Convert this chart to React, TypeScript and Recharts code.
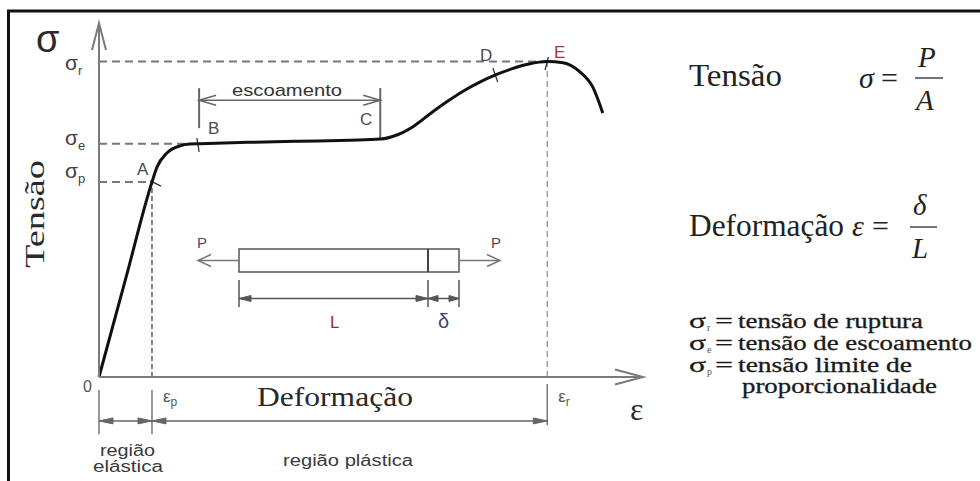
import React from 'react';
import { ComposedChart, Line, XAxis, YAxis, ReferenceLine } from 'recharts';

// curva tensão x deformação (unidades arbitrárias)
const strain = [0, 4.87, 9.74, 10.66, 12.5, 14.9, 16.7, 18.6, 27.8, 36.9, 46.1, 51.7, 55.0, 58.0, 61.0, 64.0, 67.0, 70.0, 73.0, 76.0, 79.0, 82.4, 85.3, 88.4, 90.8, 92.6];
const stress = [0, 27.55, 55.1, 59.3, 63.3, 65.3, 65.8, 65.9, 66.3, 66.6, 66.9, 67.2, 68.5, 71.0, 74.5, 77.8, 80.8, 83.3, 85.4, 87.1, 88.4, 89.1, 88.8, 86.2, 81.8, 74.6];

const sigmaP = 55.1;
const sigmaE = 65.9;
const sigmaR = 89.1;
const epsP = 9.74;
const epsKnee = 16.7;
const epsB = 18.4;
const epsC = 51.7;
const sigmaC = 67.2;
const epsR = 82.4;

const yTicks = [sigmaP, sigmaE, sigmaR];
const ySubs = ['p', 'e', 'r'];
const xTicks = [0, epsP, epsR];
const xLabels = ['0', 'p', 'r'];

// cotas de anotação (mesma escala)
const yieldLevel = 78.2;
const yieldTop = 81.6;
const yieldBottomB = 70.3;
const dimLevel = -12.4;
const dimTop = -3.7;
const dimBottom = -16.2;
const curveMarks = [
  [[9.4, 55.4], [11.4, 53.9]],
  [[18.0, 67.5], [18.4, 63.6]],
  [[72.4, 87.3], [73.3, 83.3]],
  [[82.6, 90.4], [82.0, 86.7]],
];

const SANS = 'Liberation Sans';
const SERIF = 'Liberation Serif';

const data = strain.map((e, i) => ({ e, s: stress[i] }));

type ArrowOpts = { start?: boolean; end?: boolean; len?: number; half?: number; filled?: boolean; color?: string; w?: number; dash?: string };

const head = (tx: number, ty: number, ang: number, len: number, half: number, filled: boolean, color: string, w: number) => {
  const bx = tx - len * Math.cos(ang);
  const by = ty - len * Math.sin(ang);
  const px = -Math.sin(ang) * half;
  const py = Math.cos(ang) * half;
  const pts = `${bx + px},${by + py} ${tx},${ty} ${bx - px},${by - py}`;
  return filled
    ? <polygon points={pts} fill={color} stroke={color} strokeWidth={1} />
    : <polyline points={pts} fill="none" stroke={color} strokeWidth={w} />;
};

const arrowSvg = (x1: number, y1: number, x2: number, y2: number, o: ArrowOpts) => {
  const color = o.color ?? '#666';
  const w = o.w ?? 1.5;
  const len = o.len ?? 12;
  const half = o.half ?? 4;
  const a = Math.atan2(y2 - y1, x2 - x1);
  return (
    <g>
      <line x1={x1} y1={y1} x2={x2} y2={y2} stroke={color} strokeWidth={w} strokeDasharray={o.dash} />
      {o.start && head(x1, y1, a + Math.PI, len, half, !!o.filled, color, w)}
      {o.end && head(x2, y2, a, len, half, !!o.filled, color, w)}
    </g>
  );
};

const arrowShape = (o: ArrowOpts) => (p: any) => arrowSvg(p.x1, p.y1, p.x2, p.y2, o);

const YTick = (props: any) => {
  const { y, payload } = props;
  const i = yTicks.indexOf(payload.value);
  const dy = [-4, 1, 8][i] ?? 0;
  return (
    <text x={65} y={y + dy} fontFamily={SANS} fontSize={21} fill="#4a3c3c">
      σ<tspan fontSize={13} dy={5}>{ySubs[i]}</tspan>
    </text>
  );
};

const XTick = (props: any) => {
  const { x, payload } = props;
  const i = xTicks.indexOf(payload.value);
  if (i === 0) {
    return <text x={x - 16} y={392} fontFamily={SANS} fontSize={16} fill="#555">0</text>;
  }
  return (
    <text x={x + 11} y={402} fontFamily={SANS} fontSize={17} fill="#555">
      ε<tspan fontSize={12} dy={4}>{xLabels[i]}</tspan>
    </text>
  );
};

const dashed = { stroke: '#777', strokeWidth: 2, strokeDasharray: '8 5' };

const Overlay = () => (
  <svg width={980} height={481} style={{ position: 'absolute', left: 0, top: 0, pointerEvents: 'none' }}>
    {/* moldura */}
    <polyline points="8.5,481 8.5,11 980,11" fill="none" stroke="#111" strokeWidth={3} />

    <text x={36} y={52} fontFamily={SANS} fontSize={38} fill="#2a2a2a">σ</text>
    <text transform="translate(44,214) rotate(-90)" textAnchor="middle" fontFamily={SERIF} fontSize={27} fill="#2a2a2a" textLength={108} lengthAdjust="spacingAndGlyphs">Tensão</text>

    <text x={137} y={175} fontFamily={SANS} fontSize={17} fill="#4a4a5a">A</text>
    <text x={208} y={134} fontFamily={SANS} fontSize={17} fill="#4a4a5a">B</text>
    <text x={360} y={125} fontFamily={SANS} fontSize={17} fill="#4a4a5a">C</text>
    <text x={480} y={61} fontFamily={SANS} fontSize={17} fill="#4a4a5a">D</text>
    <text x={554} y={58} fontFamily={SANS} fontSize={17} fill="#a83a3a">E</text>

    <text x={232} y={96} fontFamily={SANS} fontSize={17} fill="#333" textLength={110} lengthAdjust="spacingAndGlyphs">escoamento</text>

    {/* corpo de prova */}
    <rect x={239} y={249} width={220} height={23} fill="none" stroke="#555" strokeWidth={1.5} />
    <line x1={428} y1={249} x2={428} y2={272} stroke="#444" strokeWidth={2} />
    {arrowSvg(239, 260.5, 198, 260.5, { end: true, len: 13, half: 6, color: '#777', w: 1.5 })}
    {arrowSvg(459, 260.5, 500, 260.5, { end: true, len: 13, half: 6, color: '#777', w: 1.5 })}
    <text x={197} y={248} fontFamily={SANS} fontSize={15} fill="#4a4a6a">P</text>
    <text x={491} y={248} fontFamily={SANS} fontSize={15} fill="#6a3a4a">P</text>
    {[239, 428, 459].map((x) => (
      <line key={x} x1={x} y1={280} x2={x} y2={307} stroke="#555" strokeWidth={1.5} />
    ))}
    {arrowSvg(239, 298.5, 428, 298.5, { start: true, end: true, len: 12, half: 3, filled: true, color: '#555', w: 1.5 })}
    {arrowSvg(428, 298.5, 459, 298.5, { start: true, end: true, len: 10, half: 3, filled: true, color: '#555', w: 1.5 })}
    <text x={330} y={328} fontFamily={SANS} fontSize={17} fill="#a02a2a">L</text>
    <text x={438} y={328} fontFamily={SANS} fontSize={20} fill="#3d4470">δ</text>

    <text x={257} y={406} fontFamily={SERIF} fontSize={27} fill="#2a2a2a" textLength={156} lengthAdjust="spacingAndGlyphs">Deformação</text>
    <text x={630} y={420} fontFamily={SERIF} fontSize={32} fill="#2a2a2a">ε</text>

    <text x={100} y={456} fontFamily={SANS} fontSize={16} fill="#3a3a3a" textLength={55} lengthAdjust="spacingAndGlyphs">região</text>
    <text x={93} y={472} fontFamily={SANS} fontSize={16} fill="#3a3a3a" textLength={70} lengthAdjust="spacingAndGlyphs">elástica</text>
    <text x={283} y={466} fontFamily={SANS} fontSize={16} fill="#3a3a3a" textLength={130} lengthAdjust="spacingAndGlyphs">região plástica</text>

    {/* fórmulas */}
    <text x={689} y={86} fontFamily={SERIF} fontSize={31} fill="#222" textLength={93} lengthAdjust="spacingAndGlyphs">Tensão</text>
    <text x={859} y={88} fontFamily={SERIF} fontStyle="italic" fontSize={30} fill="#222">σ</text>
    <text x={881} y={88} fontFamily={SERIF} fontSize={30} fill="#222">=</text>
    <text x={918} y={67} fontFamily={SERIF} fontStyle="italic" fontSize={29} fill="#222">P</text>
    <line x1={915} y1={78} x2={943} y2={78} stroke="#444" strokeWidth={1.5} />
    <text x={916} y={110} fontFamily={SERIF} fontStyle="italic" fontSize={29} fill="#222">A</text>

    <text x={689} y={236} fontFamily={SERIF} fontSize={31} fill="#222" textLength={155} lengthAdjust="spacingAndGlyphs">Deformação</text>
    <text x={852} y={236} fontFamily={SERIF} fontStyle="italic" fontSize={30} fill="#222">ε</text>
    <text x={872} y={236} fontFamily={SERIF} fontSize={30} fill="#222">=</text>
    <text x={913} y={215} fontFamily={SERIF} fontStyle="italic" fontSize={29} fill="#222">δ</text>
    <line x1={910} y1={227} x2={937} y2={227} stroke="#444" strokeWidth={1.5} />
    <text x={912} y={258} fontFamily={SERIF} fontStyle="italic" fontSize={29} fill="#222">L</text>

    {[
      { sub: 'r', text: 'tensão de ruptura', y: 328, w: 185 },
      { sub: 'e', text: 'tensão de escoamento', y: 350, w: 234 },
      { sub: 'p', text: 'tensão limite de', y: 372, w: 174 },
    ].map((r) => (
      <g key={r.sub}>
        <text x={689} y={r.y} fontFamily={SERIF} fontSize={21} fill="#1a1a1a" stroke="#1a1a1a" strokeWidth={0.3} textLength={17} lengthAdjust="spacingAndGlyphs">σ</text>
        <text x={707} y={r.y + 3} fontFamily={SERIF} fontSize={10} fill="#555">{r.sub}</text>
        <text x={715} y={r.y} fontFamily={SERIF} fontSize={21} fill="#1a1a1a" stroke="#1a1a1a" strokeWidth={0.3} textLength={18} lengthAdjust="spacingAndGlyphs">=</text>
        <text x={738} y={r.y} fontFamily={SERIF} fontSize={20} fill="#1a1a1a" stroke="#1a1a1a" strokeWidth={0.3} textLength={r.w} lengthAdjust="spacingAndGlyphs">{r.text}</text>
      </g>
    ))}
    <text x={742} y={393} fontFamily={SERIF} fontSize={20} fill="#1a1a1a" stroke="#1a1a1a" strokeWidth={0.3} textLength={195} lengthAdjust="spacingAndGlyphs">proporcionalidade</text>
  </svg>
);

export default function App() {
  return (
    <div style={{ position: 'absolute', left: 0, top: 0, width: 980, height: 481, background: '#fff' }}>
      <ComposedChart width={980} height={481} data={data} margin={{ top: 23, right: 337, bottom: 74, left: 59 }}>
        <XAxis dataKey="e" type="number" domain={[0, 100]} ticks={xTicks} interval={0} height={30}
          tickLine={false} axisLine={{ stroke: '#7a7a7a', strokeWidth: 2 }} tick={<XTick />} />
        <YAxis type="number" domain={[0, 100]} ticks={yTicks} interval={0} width={40}
          tickLine={false} axisLine={{ stroke: '#7a7a7a', strokeWidth: 2 }} tick={<YTick />} />

        {/* pontas dos eixos */}
        <ReferenceLine ifOverflow="visible" segment={[{ x: 90, y: 0 }, { x: 100, y: 0 }]}
          shape={arrowShape({ end: true, len: 28, half: 7.5, color: '#7a7a7a', w: 2 })} />
        <ReferenceLine ifOverflow="visible" segment={[{ x: 0, y: 90 }, { x: 0, y: 100 }]}
          shape={arrowShape({ end: true, len: 27, half: 7, color: '#7a7a7a', w: 2 })} />

        {/* linhas tracejadas de referência */}
        <ReferenceLine ifOverflow="visible" segment={[{ x: 0, y: sigmaR }, { x: epsR, y: sigmaR }]} {...dashed} />
        <ReferenceLine ifOverflow="visible" segment={[{ x: 0, y: sigmaE }, { x: epsKnee, y: sigmaE }]} {...dashed} />
        <ReferenceLine ifOverflow="visible" segment={[{ x: 0, y: sigmaP }, { x: epsP, y: sigmaP }]} {...dashed} />
        <ReferenceLine ifOverflow="visible" segment={[{ x: epsP, y: 0 }, { x: epsP, y: sigmaP }]} stroke="#666" strokeWidth={1.6} strokeDasharray="5 3" />
        <ReferenceLine ifOverflow="visible" segment={[{ x: epsR, y: 0 }, { x: epsR, y: sigmaR }]} stroke="#888" strokeWidth={1.2} strokeDasharray="6 4" />

        {/* cota escoamento */}
        <ReferenceLine ifOverflow="visible" segment={[{ x: epsB, y: yieldBottomB }, { x: epsB, y: yieldTop }]} stroke="#666" strokeWidth={2} />
        <ReferenceLine ifOverflow="visible" segment={[{ x: epsC, y: sigmaC }, { x: epsC, y: yieldTop }]} stroke="#666" strokeWidth={2} />
        <ReferenceLine ifOverflow="visible" segment={[{ x: epsB, y: yieldLevel }, { x: epsC, y: yieldLevel }]}
          shape={arrowShape({ start: true, end: true, len: 17, half: 5, color: '#666', w: 1.5 })} />

        {/* regiões elástica / plástica */}
        <ReferenceLine ifOverflow="visible" segment={[{ x: 0, y: dimTop }, { x: 0, y: dimBottom }]} stroke="#777" strokeWidth={1.5} />
        <ReferenceLine ifOverflow="visible" segment={[{ x: epsP, y: dimTop }, { x: epsP, y: dimBottom }]} stroke="#777" strokeWidth={1.5} />
        <ReferenceLine ifOverflow="visible" segment={[{ x: epsR, y: -2 }, { x: epsR, y: -13.6 }]} stroke="#777" strokeWidth={1.5} />
        <ReferenceLine ifOverflow="visible" segment={[{ x: 0, y: dimLevel }, { x: epsP, y: dimLevel }]}
          shape={arrowShape({ start: true, end: true, len: 14, half: 3, filled: true, color: '#666', w: 1.5 })} />
        <ReferenceLine ifOverflow="visible" segment={[{ x: epsP, y: dimLevel }, { x: epsR, y: dimLevel }]}
          shape={arrowShape({ start: true, end: true, len: 14, half: 3, filled: true, color: '#666', w: 1.5 })} />

        {curveMarks.map((m, i) => (
          <ReferenceLine key={i} ifOverflow="visible" segment={[{ x: m[0][0], y: m[0][1] }, { x: m[1][0], y: m[1][1] }]} stroke="#333" strokeWidth={1.3} />
        ))}

        <Line type="monotone" dataKey="s" stroke="#111" strokeWidth={3} dot={false} activeDot={false} isAnimationActive={false} />
      </ComposedChart>
      <Overlay />
    </div>
  );
}
